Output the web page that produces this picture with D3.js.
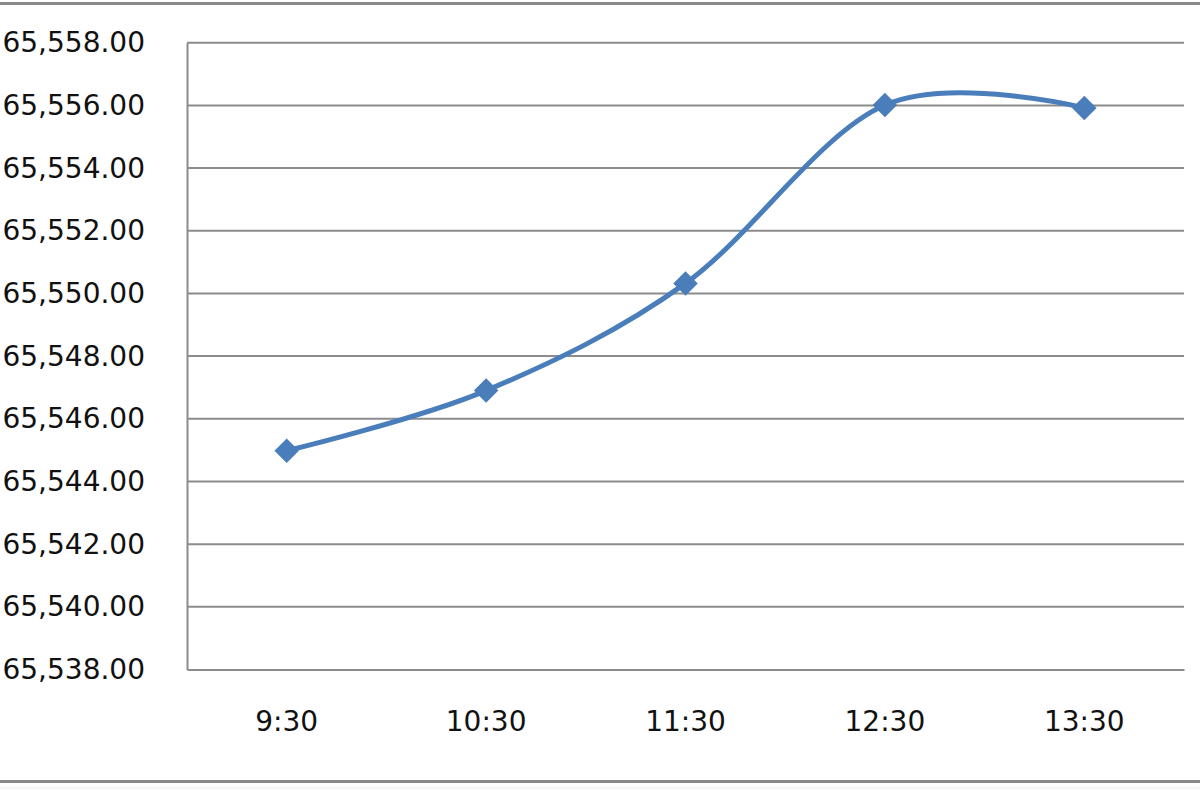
<!DOCTYPE html>
<html><head><meta charset="utf-8">
<script src="https://cdn.jsdelivr.net/npm/d3@7"></script>
<style>html,body{margin:0;padding:0;background:#fff;}svg{display:block;}</style>
</head><body>
<svg id="c" width="1200" height="800"></svg>
<script>
const categories = ["9:30", "10:30", "11:30", "12:30", "13:30"];
const values = [65544.98, 65546.90, 65550.32, 65556.01, 65555.92];
const yTicks = [65538, 65540, 65542, 65544, 65546, 65548, 65550, 65552, 65554, 65556, 65558];

const svg = d3.select("#c");
const W = 1200, H = 800;
const m = {left: 187, right: 1184, top: 42.7, bottom: 669.5};
const font = "DejaVu Sans, Verdana, sans-serif";

// outer frame lines
svg.append("line").attr("x1", 0).attr("x2", W).attr("y1", 3.5).attr("y2", 3.5)
  .attr("stroke", "#8a8a8a").attr("stroke-width", 3);
svg.append("line").attr("x1", 0).attr("x2", W).attr("y1", 781.5).attr("y2", 781.5)
  .attr("stroke", "#8a8a8a").attr("stroke-width", 3);
svg.append("line").attr("x1", 0).attr("x2", W).attr("y1", 788).attr("y2", 788)
  .attr("stroke", "#ececec").attr("stroke-width", 1);

const x = d3.scaleBand().domain(categories).range([m.left, m.right]);
const y = d3.scaleLinear().domain([65538, 65558]).range([m.bottom, m.top]);

// gridlines
svg.append("g").selectAll("line").data(yTicks.filter(t => t !== 65538)).join("line")
  .attr("x1", m.left).attr("x2", m.right)
  .attr("y1", d => y(d)).attr("y2", d => y(d))
  .attr("stroke", "#8c8c8c").attr("stroke-width", 2);

// y axis
const yAxis = d3.axisLeft(y).tickValues(yTicks).tickSize(0).tickPadding(42)
  .tickFormat(d => d3.format(",.2f")(d));
const gy = svg.append("g").attr("transform", `translate(${m.left},0)`).call(yAxis);
gy.select(".domain").attr("stroke", "#8c8c8c").attr("stroke-width", 2);
gy.selectAll("text").attr("font-family", font).attr("font-size", 28).attr("fill", "#111");

// x axis
const xAxis = d3.axisBottom(x).tickSize(0).tickPadding(42);
const gx = svg.append("g").attr("transform", `translate(0,${m.bottom})`).call(xAxis);
gx.select(".domain").attr("stroke", "#8c8c8c").attr("stroke-width", 2);
gx.selectAll("text").attr("font-family", font).attr("font-size", 28).attr("fill", "#111");

// line
const cx = d => x(d) + x.bandwidth() / 2;
const pts = categories.map((c, i) => [cx(c), y(values[i])]);
const line = d3.line().curve(d3.curveCardinal.tension(0));
svg.append("path").attr("d", line(pts)).attr("fill", "none")
  .attr("stroke", "#4a7ebb").attr("stroke-width", 5).attr("stroke-linejoin", "round");

// diamond markers
const sym = d3.symbol().type(d3.symbolSquare).size(300);
svg.append("g").selectAll("path").data(pts).join("path")
  .attr("d", sym)
  .attr("transform", d => `translate(${d[0]},${d[1]}) rotate(45)`)
  .attr("fill", "#4a7ebb");
</script>
</body></html>
